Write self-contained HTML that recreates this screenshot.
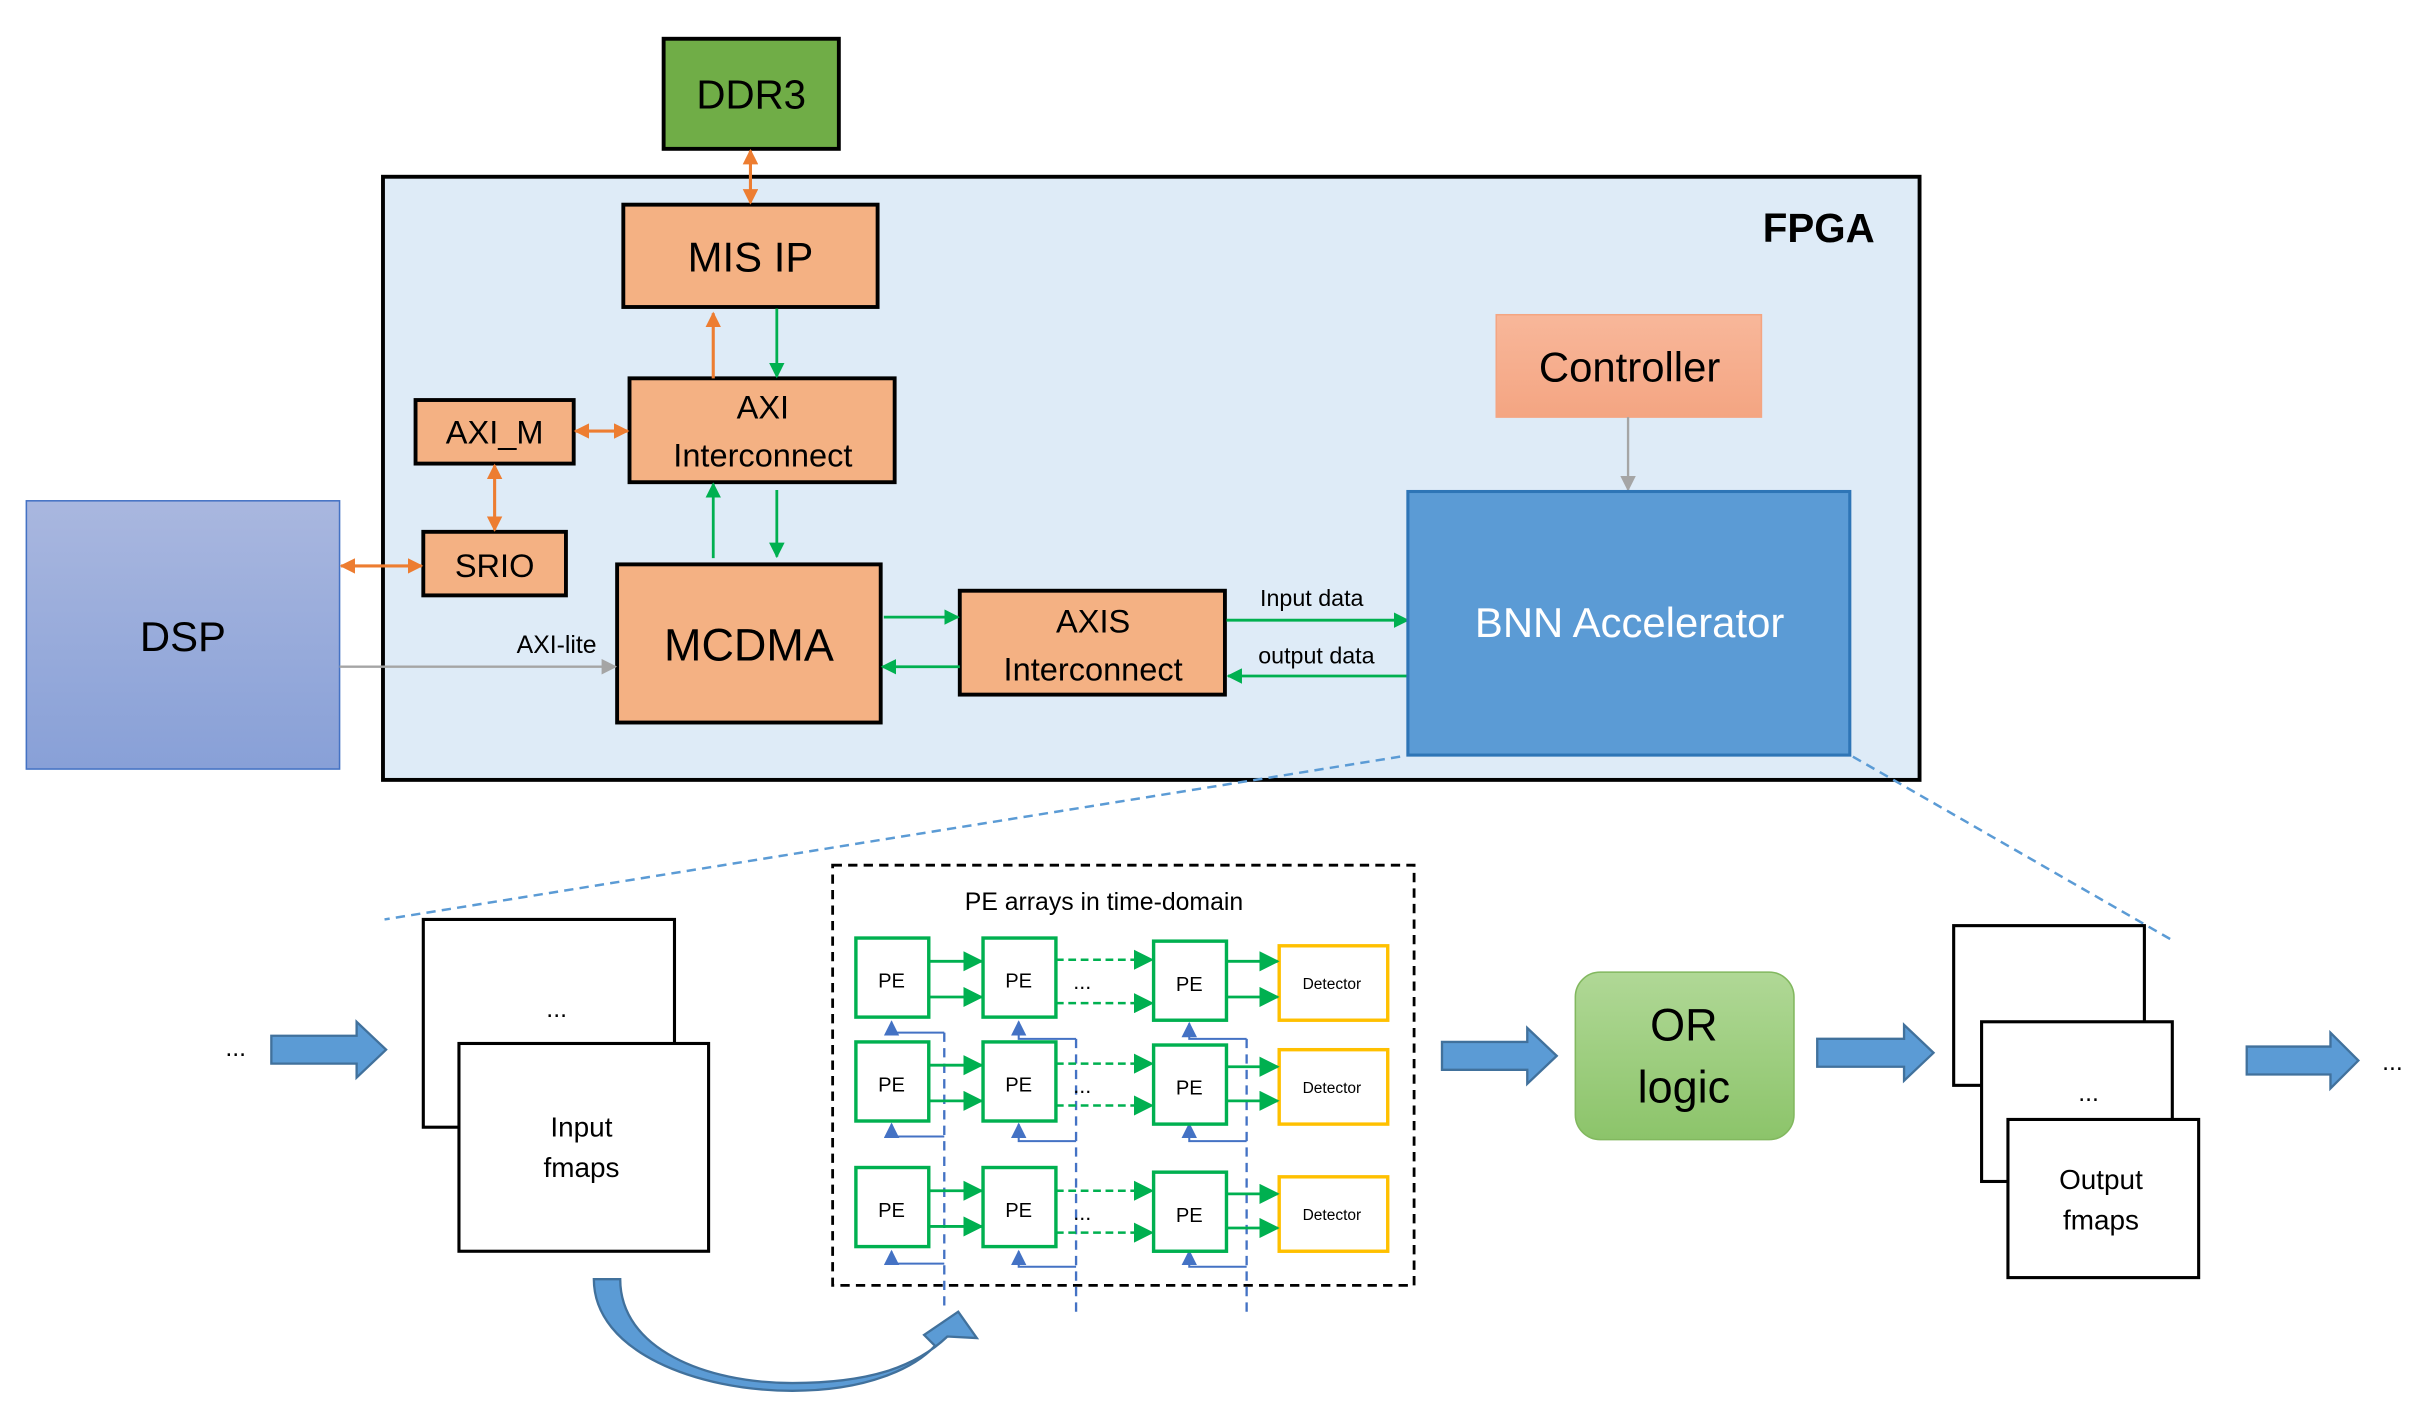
<!DOCTYPE html>
<html><head><meta charset="utf-8"><style>
html,body{margin:0;padding:0;background:#fff;}
svg{display:block;}
text{font-family:"Liberation Sans",sans-serif;}
</style></head><body>
<svg width="2430" height="1428" viewBox="0 0 1567.2 921" preserveAspectRatio="none" xmlns="http://www.w3.org/2000/svg">
<defs>
<linearGradient id="dsp" x1="0" y1="0" x2="0" y2="1"><stop offset="0" stop-color="#a9b7df"/><stop offset="1" stop-color="#88a0d7"/></linearGradient>
<linearGradient id="ctl" x1="0" y1="0" x2="0" y2="1"><stop offset="0" stop-color="#f8b79a"/><stop offset="1" stop-color="#f4a582"/></linearGradient>
<linearGradient id="orl" x1="0" y1="0" x2="0" y2="1"><stop offset="0" stop-color="#b0d896"/><stop offset="1" stop-color="#8cc46a"/></linearGradient>
<marker id="ao" viewBox="0 0 10 10" refX="9" refY="5" markerWidth="10" markerHeight="10" markerUnits="userSpaceOnUse" orient="auto-start-reverse"><path d="M0,0 L10,5 L0,10 z" fill="#ed7d31"/></marker>
<marker id="ag" viewBox="0 0 10 10" refX="9" refY="5" markerWidth="10" markerHeight="10" markerUnits="userSpaceOnUse" orient="auto-start-reverse"><path d="M0,0 L10,5 L0,10 z" fill="#00b050"/></marker>
<marker id="ag2" viewBox="0 0 10 10" refX="9" refY="5" markerWidth="13" markerHeight="13" markerUnits="userSpaceOnUse" orient="auto"><path d="M0,0 L10,5 L0,10 z" fill="#00b050"/></marker>
<marker id="agr" viewBox="0 0 10 10" refX="9" refY="5" markerWidth="10" markerHeight="10" markerUnits="userSpaceOnUse" orient="auto"><path d="M0,0 L10,5 L0,10 z" fill="#a5a5a5"/></marker>
<marker id="ab" viewBox="0 0 10 10" refX="9" refY="5" markerWidth="10" markerHeight="10" markerUnits="userSpaceOnUse" orient="auto"><path d="M0,0 L10,5 L0,10 z" fill="#4472c4"/></marker>
</defs>

<rect x="428" y="25" width="113" height="71" fill="#70ad47" stroke="#000" stroke-width="2.5"/>
<text x="484.5" y="70" font-size="26" text-anchor="middle">DDR3</text>

<rect x="247" y="114" width="991" height="389" fill="#deebf7" stroke="#000" stroke-width="2.5"/>
<text x="1173" y="156" font-size="26" font-weight="bold" text-anchor="middle">FPGA</text>

<g fill="#f4b183" stroke="#000" stroke-width="2.5">
<rect x="402" y="132" width="164" height="66"/>
<rect x="406" y="244" width="171" height="67"/>
<rect x="268" y="258" width="102" height="41"/>
<rect x="273" y="343" width="92" height="41"/>
<rect x="398" y="364" width="170" height="102"/>
<rect x="619" y="381" width="171" height="67"/>
</g>
<text x="484" y="175" font-size="27" text-anchor="middle">MIS IP</text>
<text x="492" y="270" font-size="21" text-anchor="middle">AXI</text>
<text x="492" y="301" font-size="21" text-anchor="middle">Interconnect</text>
<text x="319" y="286" font-size="21" text-anchor="middle">AXI_M</text>
<text x="319" y="372" font-size="21" text-anchor="middle">SRIO</text>
<text x="483" y="426" font-size="29" text-anchor="middle">MCDMA</text>
<text x="705" y="408" font-size="21" text-anchor="middle">AXIS</text>
<text x="705" y="439" font-size="21" text-anchor="middle">Interconnect</text>

<rect x="17" y="323" width="202" height="173" fill="url(#dsp)" stroke="#4472c4" stroke-width="1"/>
<text x="118" y="420" font-size="27" text-anchor="middle">DSP</text>

<g stroke="#ed7d31" stroke-width="2" fill="none">
<line x1="484" y1="97" x2="484" y2="131" marker-start="url(#ao)" marker-end="url(#ao)"/>
<line x1="460" y1="244" x2="460" y2="202" marker-end="url(#ao)"/>
<line x1="371" y1="278" x2="405" y2="278" marker-start="url(#ao)" marker-end="url(#ao)"/>
<line x1="319" y1="300" x2="319" y2="342" marker-start="url(#ao)" marker-end="url(#ao)"/>
<line x1="220" y1="365" x2="272" y2="365" marker-start="url(#ao)" marker-end="url(#ao)"/>
</g>
<g stroke="#00b050" stroke-width="1.8" fill="none">
<line x1="501" y1="199" x2="501" y2="243" marker-end="url(#ag)"/>
<line x1="460" y1="360" x2="460" y2="312" marker-end="url(#ag)"/>
<line x1="501" y1="316" x2="501" y2="359" marker-end="url(#ag)"/>
<line x1="570" y1="398" x2="618" y2="398" marker-end="url(#ag)"/>
<line x1="619" y1="430" x2="569" y2="430" marker-end="url(#ag)"/>
<line x1="791" y1="400" x2="908" y2="400" marker-end="url(#ag)"/>
<line x1="908" y1="436" x2="792" y2="436" marker-end="url(#ag)"/>
</g>
<line x1="219" y1="430" x2="397" y2="430" stroke="#a5a5a5" stroke-width="1.5" marker-end="url(#agr)"/>
<text x="359" y="421" font-size="16" text-anchor="middle">AXI-lite</text>
<text x="846" y="391" font-size="15" text-anchor="middle">Input data</text>
<text x="849" y="428" font-size="15" text-anchor="middle">output data</text>

<rect x="965" y="203" width="171" height="66" fill="url(#ctl)" stroke="#f4a582" stroke-width="1"/>
<text x="1051" y="246" font-size="27" text-anchor="middle">Controller</text>
<line x1="1050" y1="269" x2="1050" y2="316" stroke="#a5a5a5" stroke-width="1.5" marker-end="url(#agr)"/>

<rect x="908" y="317" width="285" height="170" fill="#5b9bd5" stroke="#2e75b6" stroke-width="2"/>
<text x="1051" y="411" font-size="27" fill="#fff" text-anchor="middle">BNN Accelerator</text>

<g stroke="#5b9bd5" stroke-width="1.6" stroke-dasharray="6,4" fill="none">
<line x1="903" y1="488" x2="248" y2="593"/>
<line x1="1195" y1="488" x2="1402" y2="607"/>
</g>

<g fill="#5b9bd5" stroke="#41719c" stroke-width="1.5">
<path d="M175,668 L230,668 L230,659 L249,677 L230,695 L230,686 L175,686 Z"/>
<path d="M930,672 L985,672 L985,663 L1004,681 L985,699 L985,690 L930,690 Z"/>
<path d="M1172,670 L1228,670 L1228,661 L1247,679 L1228,697 L1228,688 L1172,688 Z"/>
<path d="M1449,675 L1503,675 L1503,666 L1521,684 L1503,702 L1503,693 L1449,693 Z"/>
<path d="M383,825 C383,872 450,897 511,897 C560,897 590,882 603,868 L596,861 L618,846 L630,863 L611,862 C590,882 560,892 511,892 C455,892 400,870 400,825 Z"/>
</g>
<text x="152" y="681" font-size="16" text-anchor="middle">...</text>
<text x="1543" y="690" font-size="16" text-anchor="middle">...</text>

<rect x="273" y="593" width="162" height="134" fill="#fff" stroke="#000" stroke-width="2"/>
<text x="359" y="656" font-size="16" text-anchor="middle">...</text>
<rect x="296" y="673" width="161" height="134" fill="#fff" stroke="#000" stroke-width="2"/>
<text x="375" y="733" font-size="18" text-anchor="middle">Input</text>
<text x="375" y="759" font-size="18" text-anchor="middle">fmaps</text>

<rect x="537" y="558" width="375" height="271" fill="none" stroke="#000" stroke-width="1.8" stroke-dasharray="6,4"/>
<text x="712" y="587" font-size="16" text-anchor="middle">PE arrays in time-domain</text>

<g stroke="#4472c4" stroke-width="1.5" fill="none" stroke-dasharray="6,4">
<line x1="609" y1="666" x2="609" y2="845"/>
<line x1="694" y1="670" x2="694" y2="848"/>
<line x1="804" y1="670" x2="804" y2="848"/>
</g>
<g stroke="#4472c4" stroke-width="1.3" fill="none">
<polyline points="609,666 575,666 575,659" marker-end="url(#ab)"/>
<polyline points="694,670 657,670 657,659" marker-end="url(#ab)"/>
<polyline points="804,670 767,670 767,660" marker-end="url(#ab)"/>
<polyline points="609,733 575,733 575,725" marker-end="url(#ab)"/>
<polyline points="694,736 657,736 657,725" marker-end="url(#ab)"/>
<polyline points="804,736 767,736 767,725" marker-end="url(#ab)"/>
<polyline points="609,815 575,815 575,807" marker-end="url(#ab)"/>
<polyline points="694,817 657,817 657,807" marker-end="url(#ab)"/>
<polyline points="804,817 767,817 767,807" marker-end="url(#ab)"/>
</g>

<g fill="#fff" stroke="#00b050" stroke-width="2.2">
<rect x="552" y="605" width="47" height="51"/>
<rect x="634" y="605" width="47" height="51"/>
<rect x="744" y="607" width="47" height="51"/>
<rect x="552" y="672" width="47" height="51"/>
<rect x="634" y="672" width="47" height="51"/>
<rect x="744" y="674" width="47" height="51"/>
<rect x="552" y="753" width="47" height="51"/>
<rect x="634" y="753" width="47" height="51"/>
<rect x="744" y="756" width="47" height="51"/>
</g>
<g fill="#fff" stroke="#ffc000" stroke-width="2.2">
<rect x="825" y="610" width="70" height="48"/>
<rect x="825" y="677" width="70" height="48"/>
<rect x="825" y="759" width="70" height="48"/>
</g>
<g font-size="13" text-anchor="middle">
<text x="575" y="637">PE</text><text x="657" y="637">PE</text><text x="767" y="639">PE</text>
<text x="575" y="704">PE</text><text x="657" y="704">PE</text><text x="767" y="706">PE</text>
<text x="575" y="785">PE</text><text x="657" y="785">PE</text><text x="767" y="788">PE</text>
</g>
<g font-size="10" text-anchor="middle">
<text x="859" y="638">Detector</text><text x="859" y="705">Detector</text><text x="859" y="787">Detector</text>
</g>
<g font-size="14" text-anchor="middle">
<text x="698" y="638">...</text><text x="698" y="705">...</text><text x="698" y="787">...</text>
</g>
<g stroke="#00b050" stroke-width="1.8" fill="none">
<line x1="599" y1="620" x2="633" y2="620" marker-end="url(#ag2)"/>
<line x1="599" y1="643" x2="633" y2="643" marker-end="url(#ag2)"/>
<line x1="599" y1="687" x2="633" y2="687" marker-end="url(#ag2)"/>
<line x1="599" y1="710" x2="633" y2="710" marker-end="url(#ag2)"/>
<line x1="599" y1="768" x2="633" y2="768" marker-end="url(#ag2)"/>
<line x1="599" y1="791" x2="633" y2="791" marker-end="url(#ag2)"/>
<line x1="791" y1="620" x2="824" y2="620" marker-end="url(#ag2)"/>
<line x1="791" y1="643" x2="824" y2="643" marker-end="url(#ag2)"/>
<line x1="791" y1="688" x2="824" y2="688" marker-end="url(#ag2)"/>
<line x1="791" y1="710" x2="824" y2="710" marker-end="url(#ag2)"/>
<line x1="791" y1="770" x2="824" y2="770" marker-end="url(#ag2)"/>
<line x1="791" y1="792" x2="824" y2="792" marker-end="url(#ag2)"/>
</g>
<g stroke="#00b050" stroke-width="1.6" fill="none" stroke-dasharray="5,3">
<line x1="681" y1="619" x2="743" y2="619" marker-end="url(#ag2)"/>
<line x1="681" y1="647" x2="743" y2="647" marker-end="url(#ag2)"/>
<line x1="681" y1="686" x2="743" y2="686" marker-end="url(#ag2)"/>
<line x1="681" y1="713" x2="743" y2="713" marker-end="url(#ag2)"/>
<line x1="681" y1="768" x2="743" y2="768" marker-end="url(#ag2)"/>
<line x1="681" y1="795" x2="743" y2="795" marker-end="url(#ag2)"/>
</g>

<rect x="1016" y="627" width="141" height="108" rx="16" fill="url(#orl)" stroke="#82b85f" stroke-width="1"/>
<text x="1086" y="671" font-size="29" text-anchor="middle">OR</text>
<text x="1086" y="711" font-size="29" text-anchor="middle">logic</text>

<rect x="1260" y="597" width="123" height="103" fill="#fff" stroke="#000" stroke-width="2"/>
<rect x="1278" y="659" width="123" height="103" fill="#fff" stroke="#000" stroke-width="2"/>
<text x="1347" y="710" font-size="16" text-anchor="middle">...</text>
<rect x="1295" y="722" width="123" height="102" fill="#fff" stroke="#000" stroke-width="2"/>
<text x="1355" y="767" font-size="18" text-anchor="middle">Output</text>
<text x="1355" y="793" font-size="18" text-anchor="middle">fmaps</text>
</svg>
</body></html>
